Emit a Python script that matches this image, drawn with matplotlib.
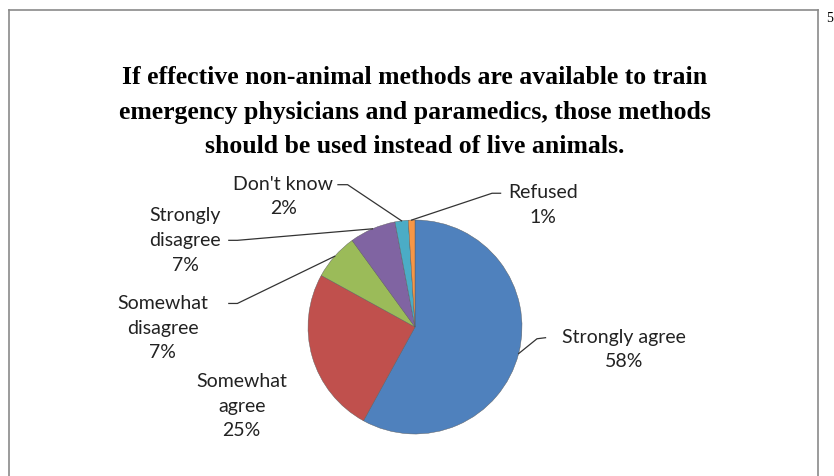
import numpy as np
import matplotlib.pyplot as plt
from matplotlib.lines import Line2D

# survey answers, in the order they go round the pie (clockwise from 12 o'clock)
answers = ['Strongly agree', 'Somewhat agree', 'Somewhat disagree',
           'Strongly disagree', "Don't know", 'Refused']
shares = [58, 25, 7, 7, 2, 1]
label_text = ['Strongly agree\n58%', 'Somewhat\nagree\n25%', 'Somewhat\ndisagree\n7%',
              'Strongly\ndisagree\n7%', "Don't know\n2%", 'Refused\n1%']
colours = ['#4F81BD', '#C0504D', '#9BBB59', '#8064A2', '#4BACC6', '#F79646']

title = ('If effective non-animal methods are available to train\n'
         'emergency physicians and paramedics, those methods\n'
         'should be used instead of live animals.')

fig = plt.figure(figsize=(8.34, 4.76), dpi=100)

# frame of the chart box (no bottom edge, it runs off the page)
frame_col = '#8a8a8a'
fig.add_artist(Line2D([9/834, 9/834], [0, 1 - 10/476], color=frame_col, lw=1.2))
fig.add_artist(Line2D([9/834, 818/834], [1 - 10/476, 1 - 10/476], color=frame_col, lw=1.2))
fig.add_artist(Line2D([818/834, 818/834], [0, 1 - 10/476], color=frame_col, lw=1.2))
fig.text(826/834, 1 - 18/476, '5', family='Liberation Serif', fontsize=10, va='center', ha='left')

fig.text(415/834, 1 - 112/476, title, family='Liberation Serif', weight='bold',
         fontsize=18.5, ha='center', va='center', linespacing=1.62)

# axes in pixel units, centred on the pie (centre at 415,327, r=107 px)
r = 107.0
ax = fig.add_axes([0, 0, 1, 1])

wedges, _ = ax.pie(shares, colors=colours, startangle=90, counterclock=False,
                   radius=1.0, center=(0, 0), frame=True,
                   wedgeprops=dict(edgecolor='#5a5a5a', linewidth=0.3))
ax.set_aspect('equal', adjustable='datalim')
ax.set_xlim(-415/r, (834-415)/r)
ax.set_ylim(-(476-327)/r, 327/r)
ax.axis('off')

# label centres and leader-line starts, in pie radii
lab_pos = [(1.95, -0.21), (-1.62, -0.74), (-2.36, -0.01),
           (-2.15, 0.81), (-1.23, 1.22), (1.20, 1.14)]
lead_start = [(1.22, -0.10), None, (-1.74, 0.22),
              (-1.74, 0.81), (-0.72, 1.33), (0.80, 1.25)]
hook = [(1.14, -0.11), None, (-1.66, 0.22), (-1.66, 0.81), (-0.63, 1.33), (0.72, 1.25)]

lab_font = dict(family='Lato', fontsize=14, color='#222222', linespacing=1.55)
for w, txt, pos, st, hk in zip(wedges, label_text, lab_pos, lead_start, hook):
    ax.text(pos[0], pos[1], txt, ha='center', va='center', **lab_font)
    if st is None:
        continue
    mid = np.deg2rad((w.theta1 + w.theta2) / 2)
    ex, ey = 1.0 * np.cos(mid), 1.0 * np.sin(mid)
    ax.plot([st[0], hk[0], ex], [st[1], hk[1], ey], color='#333333', lw=0.9)

fig.savefig('out.png', dpi=100)
